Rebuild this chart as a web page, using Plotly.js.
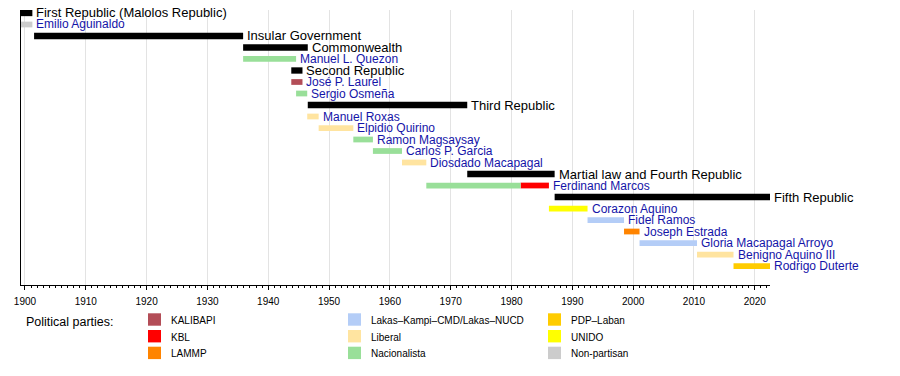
<!DOCTYPE html>
<html><head><meta charset="utf-8">
<script src="https://cdn.plot.ly/plotly-3.0.1.min.js"></script>
<style>html,body{margin:0;padding:0;background:#fff}#chart{width:900px;height:376px}</style>
</head><body><div id="chart"></div>
<script>
// Rows (top to bottom)
const rowLabels = ["First Republic (Malolos Republic)","Emilio Aguinaldo","Insular Government","Commonwealth","Manuel L. Quezon","Second Republic","José P. Laurel","Sergio Osmeña","Third Republic","Manuel Roxas","Elpidio Quirino","Ramon Magsaysay","Carlos P. Garcia","Diosdado Macapagal","Martial law and Fourth Republic","Ferdinand Marcos","Fifth Republic","Corazon Aquino","Fidel Ramos","Joseph Estrada","Gloria Macapagal Arroyo","Benigno Aquino III","Rodrigo Duterte"];
const rowIsEra = [1,0,1,1,0,1,0,0,1,0,0,0,0,0,1,0,1,0,0,0,0,0,0];

// Segments (row label, start year, end year, party or "era")
const segRow = ["First Republic (Malolos Republic)","Emilio Aguinaldo","Insular Government","Commonwealth","Manuel L. Quezon","Second Republic","José P. Laurel","Sergio Osmeña","Third Republic","Manuel Roxas","Elpidio Quirino","Ramon Magsaysay","Carlos P. Garcia","Diosdado Macapagal","Martial law and Fourth Republic","Ferdinand Marcos","Ferdinand Marcos","Fifth Republic","Corazon Aquino","Fidel Ramos","Joseph Estrada","Gloria Macapagal Arroyo","Benigno Aquino III","Rodrigo Duterte"];
const segStart = [1899.06,1899.06,1901.5,1935.87,1935.87,1943.79,1943.79,1944.58,1946.5,1946.41,1948.29,1953.99,1957.21,1961.99,1972.72,1965.99,1981.5,1987.09,1986.15,1992.5,1998.5,2001.05,2010.5,2016.5];
const segEnd   = [1901.22,1901.22,1935.87,1946.5,1944.58,1945.63,1945.63,1946.41,1972.72,1948.29,1953.99,1957.21,1961.99,1965.99,1987.09,1981.5,1986.15,2022.5,1992.5,1998.5,2001.05,2010.5,2016.5,2022.5];
const segParty = ["era","Non-partisan","era","era","Nacionalista","era","KALIBAPI","Nacionalista","era","Liberal","Liberal","Nacionalista","Nacionalista","Liberal","era","Nacionalista","KBL","era","UNIDO","Lakas–Kampi–CMD/Lakas–NUCD","LAMMP","Lakas–Kampi–CMD/Lakas–NUCD","Liberal","PDP–Laban"];

// Parties (legend order, column-major)
const parties = ["KALIBAPI","KBL","LAMMP","Lakas–Kampi–CMD/Lakas–NUCD","Liberal","Nacionalista","PDP–Laban","UNIDO","Non-partisan"];
const partyColors = ["#b34d57","#ff0000","#ff8400","#b4cdf7","#ffe4a0","#99df99","#ffcc00","#ffff00","#cccccc"];
const eraColor = "#000000";
const legendTitle = "Political parties:";

const xRange = [1899.35, 2022.5];
const tickLabels = ["1900","1910","1920","1930","1940","1950","1960","1970","1980","1990","2000","2010","2020"];
const tickVals = tickLabels.map(Number);

// layout geometry (pixels)
const W = 900, H = 376, mL = 21, mR = 130, mT = 10, mB = 91;
const plotW = W - mL - mR, plotH = H - mT - mB;
const px = p => (p - mL) / plotW;
const py = q => (H - mB - q) / plotH;
const FONT = "Liberation Sans, Arial, sans-serif";

const groups = ["era"].concat(parties);
const traces = [];
groups.forEach(g => {
  const idx = segParty.map((p, i) => p === g ? i : -1).filter(i => i >= 0);
  if (!idx.length) return;
  traces.push({
    type: "bar", orientation: "h",
    y: idx.map(i => rowLabels.indexOf(segRow[i])),
    base: idx.map(i => segStart[i]),
    x: idx.map(i => segEnd[i] - segStart[i]),
    width: idx.map(() => g === "era" ? 0.55 : 0.5),
    marker: {color: g === "era" ? eraColor : partyColors[parties.indexOf(g)], line: {width: 0}},
    name: g, showlegend: false, hoverinfo: "skip"
  });
});

const annotations = rowLabels.map((lab, r) => {
  const ends = segEnd.filter((e, i) => segRow[i] === lab);
  return {
    x: Math.max(...ends), y: r, xref: "x", yref: "y",
    text: lab, showarrow: false, xanchor: "left", yanchor: "middle", xshift: 3, borderpad: 0,
    font: {family: FONT, size: rowIsEra[r] ? 13 : 12, color: rowIsEra[r] ? "#000000" : "#1414a8"}
  };
});

const shapes = [];
annotations.push({x: px(25), y: py(322), xref: "paper", yref: "paper", text: legendTitle, showarrow: false,
  xanchor: "left", yanchor: "middle", borderpad: 0, font: {family: FONT, size: 12.5, color: "#000"}});
parties.forEach((p, i) => {
  const col = Math.floor(i / 3), row = i % 3;
  const x0 = 148 + 200 * col, yc = 319.5 + 16.7 * row;
  shapes.push({type: "rect", xref: "paper", yref: "paper", x0: px(x0), x1: px(x0 + 13), y0: py(yc - 6.2), y1: py(yc + 6.2),
    fillcolor: partyColors[i], line: {width: 0}});
  annotations.push({x: px(x0 + 22), y: py(yc + 1), xref: "paper", yref: "paper", text: p, showarrow: false,
    xanchor: "left", yanchor: "middle", borderpad: 0, font: {family: FONT, size: 10, color: "#000"}});
});

const layout = {
  width: W, height: H,
  margin: {l: mL, r: mR, t: mT, b: mB, pad: 0},
  paper_bgcolor: "#ffffff", plot_bgcolor: "#ffffff",
  barmode: "overlay", showlegend: false,
  xaxis: {range: xRange, tickvals: tickVals, ticktext: tickLabels, ticks: "outside", ticklen: 4, tickcolor: "#000",
    ticklabelstandoff: 3,
    showline: true, linecolor: "#000", linewidth: 1, showgrid: true, gridcolor: "#e3e3e3", zeroline: false,
    minor: {dtick: 1, tick0: 1900, ticks: "outside", ticklen: 2, tickcolor: "#000", showgrid: false},
    tickfont: {family: FONT, size: 10, color: "#000"}, fixedrange: true},
  yaxis: {range: [23.65, -0.26], showline: true, linecolor: "#000", linewidth: 1, showticklabels: false, ticks: "",
    showgrid: false, zeroline: false, fixedrange: true},
  annotations: annotations, shapes: shapes
};
Plotly.newPlot("chart", traces, layout, {displayModeBar: false, staticPlot: true});
</script></body></html>
